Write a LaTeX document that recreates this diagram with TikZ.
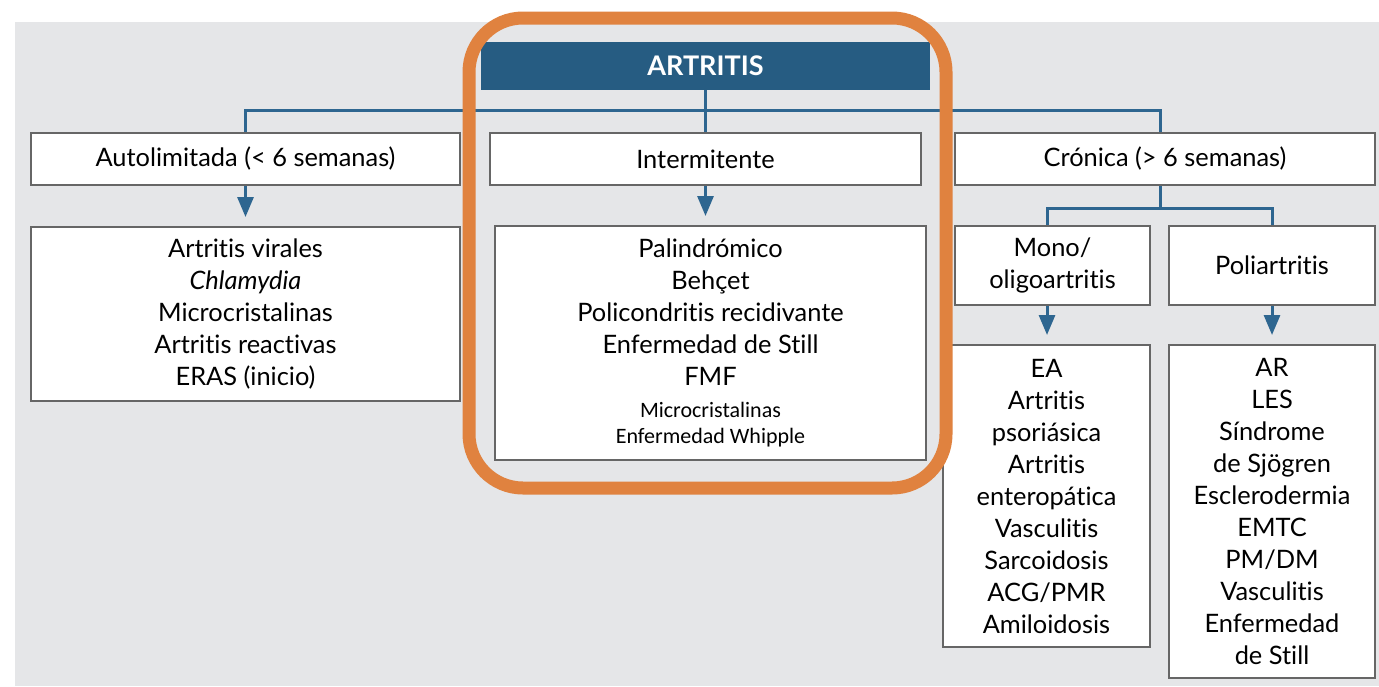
\documentclass[tikz,border=0pt]{standalone}
\usepackage{fontspec}
\setmainfont{Lato}[Ligatures=NoCommon]
\newfontfamily\calibri{Carlito}
\usetikzlibrary{arrows.meta}
\definecolor{azulart}{HTML}{265C82}
\definecolor{lineaart}{HTML}{2E6690}
\definecolor{grisfondo}{HTML}{E5E6E8}
\definecolor{naranja}{HTML}{E0823F}
\newcommand{\cuerpo}[0]{\fontsize{12.7}{16}\selectfont}
\newcommand{\chica}[1]{{\calibri\fontsize{11}{13}\selectfont #1}}

\begin{document}
\begin{tikzpicture}[x=0.5pt, y=-0.5pt]
  \tikzset{caja/.style={draw=black!60, line width=1pt, fill=white, align=center, inner sep=0pt, font=\cuerpo},
           rama/.style={draw=lineaart, line width=1.5pt},
           flecha/.style={rama, -{Triangle[width=8pt,length=10pt]}, shorten >=4.5pt}}
  \useasboundingbox (0,0) rectangle (1379,686);
  \fill[white] (0,0) rectangle (1379,686);
  \fill[grisfondo] (15,22) rectangle (1379,686);
  % cabecera y primer nivel
  \node[fill=azulart, text=white, font=\fontsize{13.5}{15}\selectfont\bfseries, minimum width=224.5pt, minimum height=24pt, inner sep=0pt] (titulo) at (705.5,66) {ARTRITIS};
  \node[caja, minimum width=214.5pt, minimum height=26pt] (auto) at (245.5,159) {Autolimitada (< 6 semanas)};
  \node[caja, minimum width=215.5pt, minimum height=26pt] (inter) at (705.5,159) {Intermitente};
  \node[caja, minimum width=210pt, minimum height=26pt] (cronica) at (1165,159) {Crónica (> 6 semanas)};
  % listas
  \node[caja, minimum width=214.5pt, minimum height=87pt] (autolista) at (245.5,314)
    {Artritis virales\\\textit{Chlamydia}\\Microcristalinas\\Artritis reactivas\\ERAS (inicio)};
  \node[caja, minimum width=215.5pt, minimum height=117pt] (interlista) at (710.5,343)
    {Palindrómico\\Behçet\\Policondritis recidivante\\Enfermedad de Still\\FMF\\\chica{Microcristalinas}\\[-3pt]\chica{Enfermedad Whipple}};
  \node[caja, minimum width=97.5pt, minimum height=39.5pt] (mono) at (1052.5,265.5) {Mono/\\oligoartritis};
  \node[caja, minimum width=103pt, minimum height=39.5pt] (poli) at (1272,265.5) {Poliartritis};
  \node[caja, minimum width=103.5pt, minimum height=151pt] (monolista) at (1046.5,496)
    {EA\\Artritis\\psoriásica\\Artritis\\enteropática\\Vasculitis\\Sarcoidosis\\ACG/PMR\\Amiloidosis};
  \node[caja, minimum width=103pt, minimum height=166.5pt] (polilista) at (1272,511.5)
    {AR\\LES\\Síndrome\\de Sjögren\\Esclerodermia\\EMTC\\PM/DM\\Vasculitis\\Enfermedad\\de Still};
  % conectores
  \coordinate (bus) at (705.5,110);
  \coordinate (horquilla) at (1160,208);
  \draw[rama] (titulo.south) -- (inter.north);
  \draw[rama] (auto.north) |- (bus) -| ([xshift=-2.5pt]cronica.north);
  \draw[flecha] (auto.south) -- (autolista.north);
  \draw[flecha] (inter.south) -- (inter.south |- interlista.north);
  \draw[rama] ([xshift=-2.5pt]cronica.south) -- (horquilla);
  \draw[rama] ([xshift=-2.75pt]mono.north) |- (horquilla) -| (poli.north);
  \draw[flecha] ([xshift=-2.75pt]mono.south) -- ([xshift=-2.75pt]mono.south |- monolista.north);
  \draw[flecha] (poli.south) -- (polilista.north);
  % marco naranja
  \draw[naranja, line width=6.5pt, rounded corners=27pt] (469,18) rectangle (946,488);
\end{tikzpicture}
\end{document}
